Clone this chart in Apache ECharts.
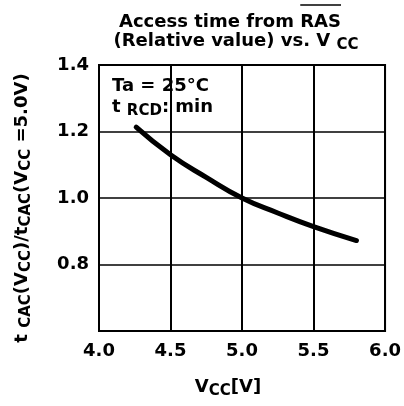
<!DOCTYPE html>
<html><head><meta charset="utf-8">
<script src="https://cdn.jsdelivr.net/npm/echarts@6/dist/echarts.min.js"></script>
<style>html,body{margin:0;padding:0;background:#fff}#c{width:404px;height:406px}</style>
</head><body><div id="c"></div>
<script>
const vcc = [4.26, 4.5, 4.75, 5.0, 5.25, 5.5, 5.8];
const relTime = [1.213, 1.13, 1.062, 1.0, 0.955, 0.914, 0.872];
const xTicks = ['4.0', '4.5', '5.0', '5.5', '6.0'];
const yTicks = ['', '0.8', '1.0', '1.2', '1.4'];

const FONT = '"DejaVu Sans", Verdana, sans-serif';
const W = 'bold';
const mk = (sz, sub) => sub
  ? {fontSize: sz, fontFamily: FONT, fontWeight: W, color: '#000', lineHeight: sz, padding: [Math.round(sz * 0.5), 0, 0, 0]}
  : {fontSize: sz, fontFamily: FONT, fontWeight: W, color: '#000', lineHeight: sz, verticalAlign: 'top'};

// measure title for overline placement
const cv = document.createElement('canvas').getContext('2d');
const titleFont = 'bold 18px ' + FONT;
cv.font = titleFont;
const t1 = 'Access time from RAS';
const t1w = cv.measureText(t1).width;
const rasw = cv.measureText('RAS').width;
const t1cx = 230;
const olx2 = t1cx + t1w / 2;
const olx1 = olx2 - rasw;

const chart = echarts.init(document.getElementById('c'));
chart.setOption({
  animation: false,
  backgroundColor: '#fff',
  grid: {left: 99, right: 15, top: 65, bottom: 75, show: true, borderColor: '#000', borderWidth: 2},
  xAxis: {
    type: 'value', min: 4, max: 6, interval: 0.5,
    axisLine: {show: true, lineStyle: {color: '#000', width: 2}},
    axisTick: {show: false},
    splitLine: {show: true, lineStyle: {color: '#000', width: 2}},
    axisLabel: {margin: 11, fontSize: 18, fontWeight: W, fontFamily: FONT, color: '#000',
      formatter: (v) => xTicks[Math.round((v - 4) / 0.5)]}
  },
  yAxis: {
    type: 'value', min: 0.6, max: 1.4, interval: 0.2,
    axisLine: {show: true, lineStyle: {color: '#000', width: 2}},
    axisTick: {show: false},
    splitLine: {show: true, lineStyle: {color: '#000', width: 1.5}},
    axisLabel: {margin: 10, fontSize: 18, fontWeight: W, fontFamily: FONT, color: '#000',
      formatter: (v) => yTicks[Math.round((v - 0.6) / 0.2)]}
  },
  series: [{
    type: 'line', data: vcc.map((x, i) => [x, relTime[i]]),
    smooth: true, symbol: 'none',
    lineStyle: {color: '#000', width: 5, cap: 'round'}
  }],
  graphic: [
    {type: 'text', x: t1cx, y: 22, style: {text: t1, font: titleFont, fill: '#000', textAlign: 'center', textVerticalAlign: 'middle'}},
    {type: 'line', shape: {x1: olx1, y1: 5, x2: olx2, y2: 5}, style: {stroke: '#000', lineWidth: 1.5}},
    {type: 'text', x: 236, y: 32, style: {text: '{m|(Relative value) vs. V }{s|CC}', textAlign: 'center', textVerticalAlign: 'top', rich: {m: mk(18), s: mk(15, true)}}},
    {type: 'text', x: 112, y: 77, style: {text: 'Ta = 25°C', font: 'bold 18px ' + FONT, fill: '#000', textAlign: 'left', textVerticalAlign: 'top'}},
    {type: 'text', x: 112, y: 98, style: {text: '{m|t }{s|RCD}{m|: min}', textAlign: 'left', textVerticalAlign: 'top', rich: {m: mk(18), s: mk(15, true)}}},
    {type: 'text', x: 228, y: 378, style: {text: '{m|V}{s|CC}{m|[V]}', textAlign: 'center', textVerticalAlign: 'top', rich: {m: mk(18), s: mk(15, true)}}},
    {type: 'text', x: 22, y: 208, rotation: Math.PI / 2,
      style: {text: '{m|t }{s|CAC}{m|(V}{s|CC}{m|)/t}{s|CAC}{m|(V}{s|CC}{m| =5.0V)}', textAlign: 'center', textVerticalAlign: 'middle', rich: {m: mk(18), s: mk(15, true)}}}
  ]
});
</script></body></html>
